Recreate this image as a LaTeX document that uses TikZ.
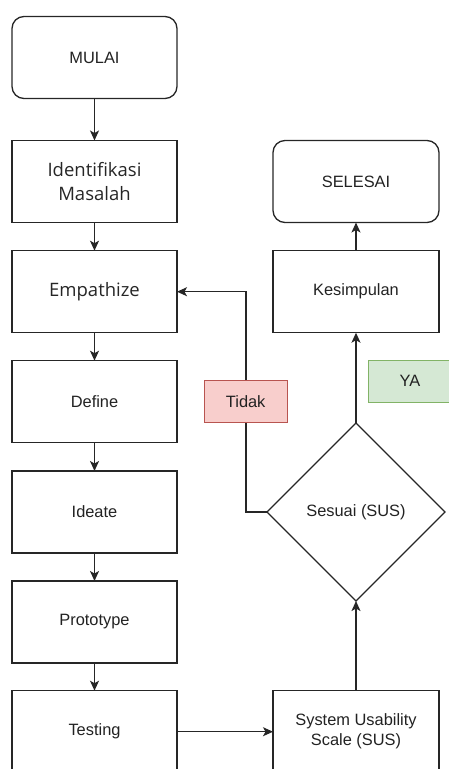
\documentclass[tikz,border=0pt]{standalone}
\usepackage{fontspec}
\setmainfont{Liberation Sans}
\newfontfamily\osans{Open Sans}
\usetikzlibrary{shapes.geometric,arrows.meta}
\definecolor{redfill}{HTML}{F8CECC}
\definecolor{redline}{HTML}{B85450}
\definecolor{greenfill}{HTML}{D5E8D4}
\definecolor{greenline}{HTML}{82B366}
\definecolor{txt}{HTML}{222222}
\begin{document}
\begin{tikzpicture}[x=1pt,y=-1pt,
  base/.style={draw=black!85, line width=1.3pt, inner sep=0pt, outer sep=0pt, align=center, text=txt,
    font=\fontsize{16.4}{20}\selectfont},
  box/.style={base, rectangle, minimum width=165pt, minimum height=82pt},
  rbox/.style={box, rounded corners=12pt},
  obox/.style={box, text=black!85, font=\osans\fontsize{18.5}{24}\selectfont},
  dec/.style={base, diamond, minimum width=178pt, minimum height=178pt, aspect=1},
  lab/.style={base, line width=1pt, minimum width=83pt, minimum height=42pt},
  arr/.style={draw=black!85, line width=1.3pt, -{Stealth[length=10pt,width=9pt,inset=2.5pt]}}
]
\clip (0,0) rectangle (449,769);
\node[rbox] (mulai) at (94.5,57.5) {MULAI};
\node[obox] (ident) at (94.5,181.5) {Identifikasi\\Masalah};
\node[obox] (emp) at (94.5,291.7) {Empathize};
\node[box] (def) at (94.5,401.7) {Define};
\node[box] (idea) at (94.5,512) {Ideate};
\node[box] (proto) at (94.5,622) {Prototype};
\node[box] (test) at (94.5,731.7) {Testing};
\node[box, minimum width=166pt] (sus) at (356,731.7) {System Usability\\Scale (SUS)};
\node[dec] (ses) at (356,512) {Sesuai (SUS)};
\node[box, minimum width=166pt] (kes) at (356,291.7) {Kesimpulan};
\node[rbox, minimum width=166pt] (sel) at (356,181.5) {SELESAI};

\draw[arr] (mulai) -- (ident);
\draw[arr] (ident) -- (emp);
\draw[arr] (emp) -- (def);
\draw[arr] (def) -- (idea);
\draw[arr] (idea) -- (proto);
\draw[arr] (proto) -- (test);
\draw[arr] (test) -- (sus);
\draw[arr] (sus) -- (ses);
\draw[arr] (ses) -- (kes);
\draw[arr] (kes) -- (sel);
\coordinate (c1) at (246,512);
\coordinate (c2) at (246,291.7);
\draw[arr] (ses.west) -- (c1) -- (c2) -- (emp.east);
\node[lab, fill=redfill, draw=redline] (tidak) at (245.7,401.7) {Tidak};
\node[lab, fill=greenfill, draw=greenline] (ya) at (410,381.3) {YA};
\end{tikzpicture}
\end{document}
